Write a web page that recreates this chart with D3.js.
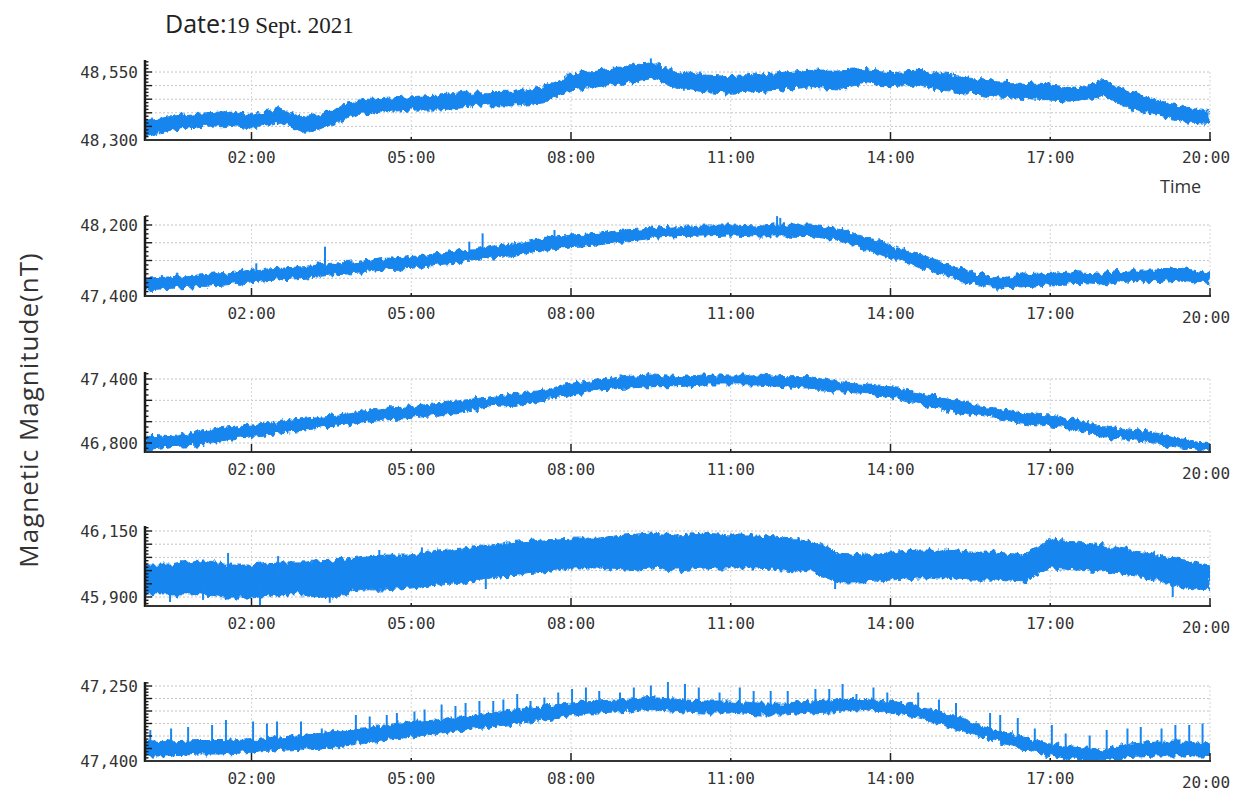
<!DOCTYPE html>
<html>
<head>
<meta charset="utf-8">
<script src="https://cdn.jsdelivr.net/npm/d3@7"></script>
<style>
  body { margin: 0; background: #fff; }
  svg { display: block; }
</style>
</head>
<body>
<svg id="chart" width="1237" height="791"></svg>
<script>
// sample times, hours after 00:00
const times = [0, 0.5, 1, 1.5, 2, 2.5, 3, 3.5, 4, 4.5, 5, 5.5, 6, 6.5, 7, 7.5, 8, 8.5, 9, 9.5,
  10, 10.5, 11, 11.5, 12, 12.5, 13, 13.5, 14, 14.5, 15, 15.5, 16, 16.5, 17, 17.5, 18, 18.5, 19, 19.5, 20];
const timeTicks = [2, 5, 8, 11, 14, 17, 20];
const timeLabels = ["02:00", "05:00", "08:00", "11:00", "14:00", "17:00", "20:00"];

// each trace is drawn as the band between its lowest and highest reading
const p1Min = [48312, 48337, 48349, 48353, 48340, 48367, 48325, 48355, 48394, 48404, 48410, 48410, 48419, 48429, 48429, 48441, 48484, 48496, 48508, 48527,
  48490, 48478, 48472, 48478, 48484, 48496, 48484, 48508, 48496, 48502, 48478, 48472, 48459, 48453, 48447, 48441, 48463, 48416, 48392, 48367, 48361];
const p1Max = [48373, 48386, 48398, 48404, 48394, 48416, 48380, 48410, 48447, 48453, 48459, 48465, 48475, 48478, 48480, 48496, 48541, 48557, 48570, 48585,
  48551, 48539, 48533, 48539, 48545, 48557, 48557, 48563, 48551, 48557, 48539, 48527, 48514, 48508, 48502, 48490, 48520, 48478, 48447, 48423, 48404];
const p1Ticks = [48300, 48550];
const p1Grid = [48350, 48400, 48450, 48500, 48550];
const p1SpikeT = [9.5];
const p1SpikeV = [48600];

const p2Min = [47468, 47486, 47505, 47524, 47562, 47580, 47599, 47637, 47655, 47693, 47712, 47749, 47787, 47824, 47862, 47918, 47956, 47975, 48012, 48050,
  48069, 48076, 48087, 48076, 48076, 48069, 48031, 47937, 47824, 47731, 47637, 47543, 47486, 47505, 47524, 47543, 47524, 47562, 47562, 47580, 47524];
const p2Max = [47599, 47618, 47637, 47655, 47693, 47712, 47731, 47768, 47787, 47824, 47843, 47881, 47918, 47956, 47993, 48050, 48087, 48106, 48144, 48162,
  48181, 48200, 48200, 48189, 48200, 48200, 48162, 48069, 47975, 47881, 47768, 47674, 47599, 47637, 47655, 47674, 47655, 47693, 47693, 47712, 47655];
const p2Ticks = [47400, 48200];
const p2Grid = [47600, 47800, 48000, 48200];
const p2SpikeT = [2.09, 3.38, 6.09, 6.34, 7.69, 11.8, 11.87, 11.93, 12.0];
const p2SpikeV = [47768, 47956, 48012, 48106, 48144, 48230, 48300, 48280, 48230];

const p3Min = [46734, 46766, 46781, 46828, 46859, 46891, 46922, 46953, 46984, 47016, 47031, 47063, 47094, 47141, 47156, 47203, 47250, 47297, 47313, 47328,
  47328, 47344, 47344, 47344, 47328, 47313, 47281, 47266, 47234, 47172, 47109, 47063, 47031, 46984, 46953, 46922, 46859, 46828, 46797, 46750, 46719];
const p3Max = [46875, 46859, 46906, 46938, 46969, 47000, 47031, 47063, 47094, 47125, 47141, 47172, 47203, 47234, 47266, 47297, 47359, 47391, 47422, 47438,
  47422, 47438, 47438, 47438, 47422, 47422, 47375, 47359, 47328, 47281, 47219, 47172, 47125, 47078, 47063, 47016, 46953, 46922, 46891, 46844, 46797];
const p3Ticks = [46800, 47400];
const p3Grid = [46800, 47000, 47200, 47400];
const p3SpikeT = [];
const p3SpikeV = [];

const p4Min = [45908, 45908, 45908, 45896, 45896, 45908, 45908, 45896, 45927, 45927, 45934, 45945, 45953, 45972, 45983, 45995, 46010, 46010, 46002, 46010,
  46002, 46010, 46010, 46010, 46002, 45995, 45957, 45957, 45964, 45972, 45972, 45964, 45964, 45957, 46010, 46002, 45995, 45983, 45964, 45934, 45927];
const p4Max = [46021, 46021, 46040, 46021, 46021, 46033, 46033, 46040, 46048, 46059, 46059, 46078, 46086, 46097, 46108, 46116, 46123, 46123, 46135, 46142,
  46135, 46142, 46135, 46135, 46123, 46116, 46067, 46059, 46067, 46078, 46078, 46070, 46070, 46059, 46116, 46108, 46097, 46078, 46059, 46040, 46021];
const p4Ticks = [45900, 46150];
const p4Grid = [45900, 45950, 46000, 46050, 46100, 46150];
const p4SpikeT = [0.47, 1.09, 1.56, 2.16, 2.5, 3.47, 4.4, 5.2, 6.4, 12.96, 19.3];
const p4SpikeV = [45881, 45889, 46067, 45866, 46055, 45878, 46078, 46088, 45930, 45930, 45900];

// bottom panel: axis printed as 47,400 at the foot and 47,250 at the head
const p5Min = [47359, 47362, 47359, 47359, 47355, 47352, 47349, 47342, 47335, 47328, 47321, 47318, 47311, 47304, 47297, 47290, 47284, 47280, 47277, 47273,
  47277, 47280, 47280, 47284, 47284, 47280, 47277, 47277, 47280, 47290, 47304, 47321, 47338, 47352, 47366, 47373, 47376, 47366, 47362, 47362, 47366];
const p5Max = [47390, 47390, 47386, 47386, 47383, 47379, 47376, 47373, 47366, 47359, 47352, 47345, 47338, 47332, 47325, 47318, 47311, 47304, 47301, 47297,
  47301, 47304, 47304, 47308, 47308, 47304, 47301, 47297, 47304, 47314, 47328, 47345, 47362, 47376, 47390, 47397, 47400, 47393, 47390, 47390, 47390];
const p5Ticks = [47400, 47250];
const p5Grid = [47250, 47275, 47300, 47325, 47350, 47375];
const p5SpikeT = [0.10, 0.49, 0.81, 1.26, 1.52, 2.03, 2.29, 2.48, 2.93, 3.32, 3.64, 3.96, 4.22, 4.54, 4.73, 5.06, 5.25, 5.57, 5.83, 6.02,
  6.28, 6.54, 6.73, 6.99, 7.24, 7.50, 7.76, 8.02, 8.28, 8.53, 8.92, 9.18, 9.50, 9.82, 10.14, 10.40, 10.79, 11.17, 11.43, 11.75,
  12.07, 12.59, 12.85, 13.10, 13.36, 13.68, 13.94, 14.20, 14.52, 14.91, 15.23, 15.87, 16.06, 16.39, 16.71, 17.03, 17.29, 17.74, 18.06, 18.45,
  18.70, 19.09, 19.35, 19.61, 19.86];
const p5SpikeV = [47338, 47335, 47332, 47328, 47318, 47321, 47325, 47321, 47321, 47335, 47342, 47308, 47311, 47308, 47304, 47301, 47297, 47287, 47290, 47284,
  47280, 47280, 47277, 47266, 47280, 47273, 47263, 47256, 47253, 47260, 47263, 47253, 47249, 47242, 47246, 47253, 47263, 47253, 47260, 47260,
  47260, 47256, 47256, 47246, 47266, 47253, 47263, 47280, 47263, 47277, 47284, 47304, 47308, 47314, 47335, 47328, 47345, 47349, 47338, 47335,
  47332, 47335, 47328, 47328, 47325];

const blue = "#1886ee";
const svg = d3.select("#chart");

// rough edge texture for the dense traces
const rough = svg.append("defs").append("filter")
  .attr("id", "rough")
  .attr("x", "-2%").attr("y", "-40%")
  .attr("width", "104%").attr("height", "180%");
rough.append("feTurbulence")
  .attr("type", "fractalNoise")
  .attr("baseFrequency", "0.2 0.09")
  .attr("numOctaves", 3)
  .attr("seed", 4)
  .attr("result", "noise");
rough.append("feDisplacementMap")
  .attr("in", "SourceGraphic").attr("in2", "noise")
  .attr("scale", 9)
  .attr("xChannelSelector", "R").attr("yChannelSelector", "G");

const x = d3.scaleLinear().domain([0, 20]).range([145, 1210]);

// pixel layout of each strip
const panels = [
  { min: p1Min, max: p1Max, ticks: p1Ticks, grid: p1Grid, step: 50, spT: p1SpikeT, spV: p1SpikeV,
    yBot: 140, yTop: 72, axisY: 140, axisTop: 60, lastDy: 0 },
  { min: p2Min, max: p2Max, ticks: p2Ticks, grid: p2Grid, step: 200, spT: p2SpikeT, spV: p2SpikeV,
    yBot: 296, yTop: 225, axisY: 296, axisTop: 216, lastDy: 4 },
  { min: p3Min, max: p3Max, ticks: p3Ticks, grid: p3Grid, step: 200, spT: p3SpikeT, spV: p3SpikeV,
    yBot: 443, yTop: 379, axisY: 452, axisTop: 372, lastDy: 4 },
  { min: p4Min, max: p4Max, ticks: p4Ticks, grid: p4Grid, step: 50, spT: p4SpikeT, spV: p4SpikeV,
    yBot: 597, yTop: 531, axisY: 606, axisTop: 526, lastDy: 4 },
  { min: p5Min, max: p5Max, ticks: p5Ticks, grid: p5Grid, step: 25, spT: p5SpikeT, spV: p5SpikeV,
    yBot: 761, yTop: 686, axisY: 761, axisTop: 682, lastDy: 4 }
];

const fmt = d3.format(",");

panels.forEach(function(p, k) {
  const y = d3.scaleLinear().domain(p.ticks).range([p.yBot, p.yTop]);
  const g = svg.append("g");

  // keep the trace inside its strip
  svg.select("defs").append("clipPath").attr("id", "clip" + k)
    .append("rect")
    .attr("x", x(0)).attr("y", p.axisTop - 6)
    .attr("width", x(20) - x(0)).attr("height", p.axisY - p.axisTop + 6);

  // dotted grid
  g.selectAll(".hgrid").data(p.grid).enter().append("line")
    .attr("x1", x(0) + 2).attr("x2", x(20))
    .attr("y1", d => y(d)).attr("y2", d => y(d))
    .attr("stroke", "#c4c4c4").attr("stroke-width", 1)
    .attr("stroke-dasharray", "2,2");

  const gridTop = d3.min(p.grid, d => y(d));
  g.selectAll(".vgrid").data(timeTicks).enter().append("line")
    .attr("x1", d => x(d)).attr("x2", d => x(d))
    .attr("y1", gridTop).attr("y2", p.axisY)
    .attr("stroke", "#d6d6d6").attr("stroke-width", 1)
    .attr("stroke-dasharray", "2,2");

  // band
  const rows = times.map((t, i) => ({ t: t, a: p.min[i], b: p.max[i] }));
  const area = d3.area()
    .x(d => x(d.t))
    .y0(d => y(d.a))
    .y1(d => y(d.b));
  const trace = g.append("g").attr("clip-path", "url(#clip" + k + ")");
  trace.append("path").datum(rows)
    .attr("d", area)
    .attr("fill", blue)
    .attr("stroke", blue)
    .attr("stroke-width", 1)
    .attr("stroke-linejoin", "round")
    .attr("filter", "url(#rough)");

  // spikes, from the middle of the band out to the reading
  const midAt = function(t) {
    const i = Math.min(times.length - 2, Math.max(0, d3.bisectRight(times, t) - 1));
    const f = (t - times[i]) / (times[i + 1] - times[i]);
    const a = p.min[i] + (p.min[i + 1] - p.min[i]) * f;
    const b = p.max[i] + (p.max[i + 1] - p.max[i]) * f;
    return (a + b) / 2;
  };
  trace.selectAll(".spike").data(p.spT).enter().append("line")
    .attr("x1", d => x(d)).attr("x2", d => x(d))
    .attr("y1", d => y(midAt(d)))
    .attr("y2", (d, i) => y(p.spV[i]))
    .attr("stroke", blue).attr("stroke-width", 2);

  // y axis with minor ticks
  const vA = y.invert(p.axisY), vB = y.invert(p.axisTop);
  const lo = Math.min(vA, vB), hi = Math.max(vA, vB);
  const minorStep = p.step / 4;
  const minor = d3.range(Math.ceil(lo / minorStep) * minorStep, hi, minorStep);
  g.selectAll(".ytick").data(minor).enter().append("line")
    .attr("x1", x(0)).attr("x2", d => x(0) + (Math.abs(d % p.step) < 1e-6 ? 7 : 3.5))
    .attr("y1", d => y(d)).attr("y2", d => y(d))
    .attr("stroke", "#1a1a1a").attr("stroke-width", 1.4);

  g.append("line")
    .attr("x1", x(0)).attr("x2", x(0))
    .attr("y1", p.axisTop).attr("y2", p.axisY + 1)
    .attr("stroke", "#1a1a1a").attr("stroke-width", 2.5);

  g.selectAll(".ylab").data(p.ticks).enter().append("text")
    .attr("x", x(0) - 7)
    .attr("y", d => y(d))
    .attr("dy", "0.35em")
    .attr("text-anchor", "end")
    .attr("font-family", "DejaVu Sans Mono, monospace")
    .attr("font-size", 16)
    .attr("fill", "#333")
    .text(d => fmt(d));

  // x axis
  g.append("line")
    .attr("x1", x(0)).attr("x2", x(20) + 1)
    .attr("y1", p.axisY).attr("y2", p.axisY)
    .attr("stroke", "#333").attr("stroke-width", 2);

  g.selectAll(".xtick").data(timeTicks).enter().append("line")
    .attr("x1", d => x(d)).attr("x2", d => x(d))
    .attr("y1", p.axisY)
    .attr("y2", (d, i) => p.axisY - (i % 2 === 0 ? 8 : 3))
    .attr("stroke", "#222").attr("stroke-width", 1.5);

  g.selectAll(".xlab").data(timeTicks).enter().append("text")
    .attr("x", (d, i) => x(d) - (i === timeTicks.length - 1 ? 4 : 0))
    .attr("y", (d, i) => p.axisY + 23 + (i === timeTicks.length - 1 ? p.lastDy : 0))
    .attr("text-anchor", "middle")
    .attr("font-family", "DejaVu Sans Mono, monospace")
    .attr("font-size", 16)
    .attr("fill", "#333")
    .text((d, i) => timeLabels[i]);
});

// titles
const title = svg.append("text")
  .attr("x", 165).attr("y", 33)
  .attr("fill", "#222");
title.append("tspan")
  .attr("font-family", "Open Sans, sans-serif")
  .attr("font-size", 25)
  .text("Date:");
title.append("tspan")
  .attr("font-family", "Liberation Serif, serif")
  .attr("font-size", 23)
  .text("19 Sept. 2021");

svg.append("text")
  .attr("x", 1160).attr("y", 193)
  .attr("font-family", "Open Sans, sans-serif")
  .attr("font-size", 18)
  .attr("fill", "#333")
  .text("Time");

svg.append("text")
  .attr("transform", "translate(38,410) rotate(-90)")
  .attr("text-anchor", "middle")
  .attr("font-family", "Open Sans, sans-serif")
  .attr("font-size", 26)
  .attr("letter-spacing", 1)
  .attr("fill", "#333")
  .text("Magnetic Magnitude(nT)");
</script>
</body>
</html>
